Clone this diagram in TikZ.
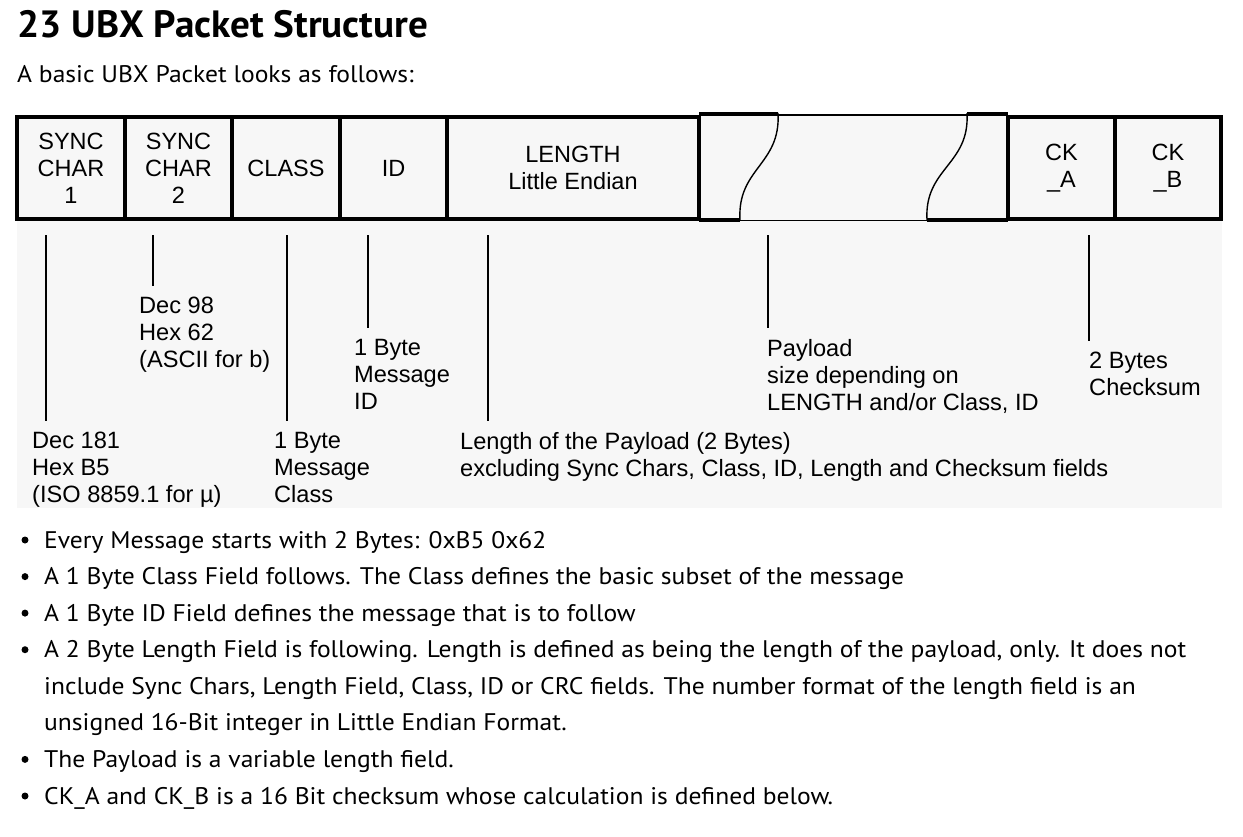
\documentclass[tikz,border=0pt]{standalone}
\usepackage{fontspec}
\setmainfont{PT Sans}[FakeStretch=1.065]
\newfontfamily\titlefont{PT Sans}[FakeStretch=1.03]
\newfontfamily\diagfont{Liberation Sans}
\usetikzlibrary{positioning}
\definecolor{panel}{RGB}{247,247,247}

\begin{document}
\begin{tikzpicture}[
  x=1pt, y=-1pt,
  field/.style={draw, line width=4pt, inner sep=0pt, minimum height=102pt, align=center,
                font=\diagfont\fontsize{23.5}{27}\selectfont},
  note/.style={anchor=north west, inner sep=0pt, align=left,
               font=\diagfont\fontsize{23.6}{27}\selectfont},
  leader/.style={line width=2pt, shorten >=11pt},
  wave/.style={line width=1.4pt},
  item/.style={anchor=base west, inner sep=0pt, align=left, font=\fontsize{24}{36.6}\selectfont},
  dot/.style={circle, fill, inner sep=0pt, minimum size=7pt},
]
\useasboundingbox[fill=white] (0,0) rectangle (1243,836);
% ---- heading ----
\node[anchor=base west, inner sep=0pt, font=\titlefont\bfseries\fontsize{38}{40}\selectfont] (title) at (17,37)
  {23 UBX Packet Structure};
\node[anchor=base west, inner sep=0pt, font=\fontsize{24}{28}\selectfont] (intro) at (17,82)
  {A basic UBX Packet looks as follows:};
% ---- packet fields ----
\fill[panel] (17,115) rectangle (1222,508);
\node[field, minimum width=108pt] (sync1) at (71,168) {SYNC\\CHAR\\1};
\node[field, minimum width=107pt] (sync2) at (178.5,168) {SYNC\\CHAR\\2};
\node[field, minimum width=108pt] (class) at (286,168) {CLASS};
\node[field, minimum width=107pt] (id) at (393.5,168) {ID};
\node[field, minimum width=252pt] (length) at (573,168) {LENGTH\\Little Endian};
\node[field, minimum width=107pt] (cka) at (1061.5,168) {CK\\\_A};
\node[field, minimum width=106pt] (ckb) at (1168,168) {CK\\\_B};
% ---- payload (broken field) ----
\draw[line width=4pt] (699,114) -- (778,114) (967,114) -- (1008,114);
\draw[line width=4pt] (699,220) -- (740,220) (927,220) -- (1008,220);
\draw[wave] (778,115) -- (967,115) (740,220.5) -- (927,220.5);
\draw[wave] (778,113) .. controls (781,165) and (737,168) .. (740,220);
\draw[wave] (967,113) .. controls (970,165) and (924,168) .. (927,220);
% ---- field notes ----
\node[note] (n-sync1) at (32,432) {Dec 181\\Hex B5\\(ISO 8859.1 for µ)};
\node[note] (n-sync2) at (139,297) {Dec 98\\Hex 62\\(ASCII for b)};
\node[note] (n-class) at (274,432) {1 Byte\\Message\\Class};
\node[note] (n-id) at (354,339) {1 Byte\\Message\\ID};
\node[note] (n-length) at (460,432)
  {Length of the Payload (2 Bytes)\\excluding Sync Chars, Class, ID, Length and Checksum fields};
\node[note] (n-payload) at (767,339) {Payload\\size depending on\\LENGTH and/or Class, ID};
\node[note] (n-ck) at (1089,352) {2 Bytes\\Checksum};
% ---- leaders ----
\draw[leader] (46,235) -- (46,0 |- n-sync1.north);
\draw[leader] (153,235) -- (153,0 |- n-sync2.north);
\draw[leader] (287,235) -- (287,0 |- n-class.north);
\draw[leader] (368,235) -- (368,0 |- n-id.north);
\draw[leader] (488,235) -- (488,0 |- n-length.north);
\draw[leader] (768,235) -- (768,0 |- n-payload.north);
\draw[leader] (1089,235) -- (1089,0 |- n-ck.north);
% ---- bullet list ----
\node[item] (b1) at (44,548) {Every Message starts with 2 Bytes: 0xB5 0x62};
\node[item] (b2) at (44,584.6) {A 1 Byte Class Field follows. The Class defines the basic subset of the message};
\node[item] (b3) at (44,621.1) {A 1 Byte ID Field defines the message that is to follow};
\node[item] (b4) at (44,730.9)
  {A 2 Byte Length Field is following. Length is defined as being the length of the payload, only. It does not\\
   include Sync Chars, Length Field, Class, ID or CRC fields. The number format of the length field is an\\
   unsigned 16-Bit integer in Little Endian Format.};
\node[item] (b5) at (44,767.4) {The Payload is a variable length field.};
\node[item] (b6) at (44,804) {CK\_A and CK\_B is a 16 Bit checksum whose calculation is defined below.};
\foreach \b in {b1,b2,b3,b5,b6}
  \node[dot] at ([xshift=-19pt, yshift=8pt]\b.base west) {};
\node[dot] at ([xshift=-19pt, yshift=81.2pt]b4.base west) {};
\end{tikzpicture}
\end{document}
